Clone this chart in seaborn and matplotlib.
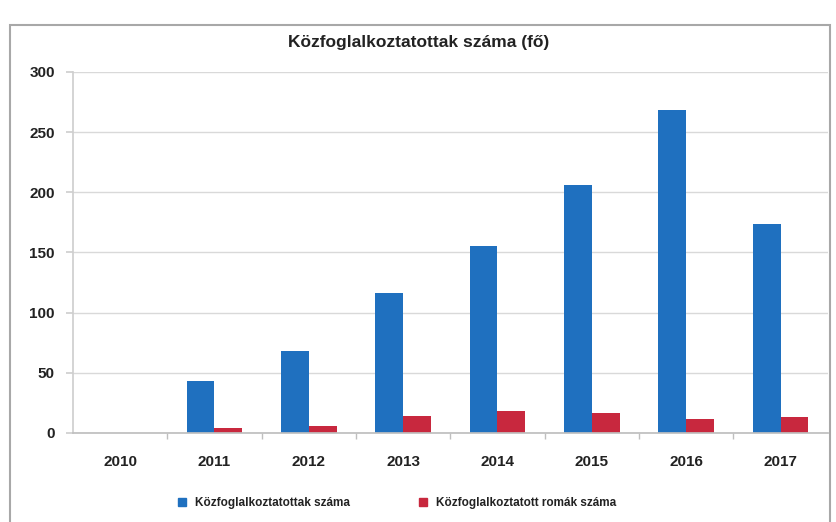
import matplotlib
matplotlib.use("Agg")
import matplotlib.pyplot as plt
import seaborn as sns
import pandas as pd
from matplotlib.patches import Rectangle
from matplotlib.lines import Line2D

years = ["2010", "2011", "2012", "2013", "2014", "2015", "2016", "2017"]
kozfoglalkoztatottak = [0, 43, 68, 116, 155, 206, 268, 174]
romak = [0, 4, 6, 14, 18, 17, 12, 13]
series_names = ["Közfoglalkoztatottak száma", "Közfoglalkoztatott romák száma"]
title = "Közfoglalkoztatottak száma (fő)"
yticks = [0, 50, 100, 150, 200, 250, 300]

df = pd.DataFrame({
    "Év": years * 2,
    "Érték": kozfoglalkoztatottak + romak,
    "Sorozat": [series_names[0]] * len(years) + [series_names[1]] * len(years),
})

sns.set_theme(style="white")
plt.rcParams['font.family'] = ['Liberation Sans', 'DejaVu Sans']

colors = ["#1f70bf", "#c8283e"]
fig = plt.figure(figsize=(8.37, 5.22), dpi=100)
ax = fig.add_axes([0.087, 0.1705, 0.902, 0.6916])

sns.barplot(data=df, x="Év", y="Érték", hue="Sorozat", palette=colors,
            width=0.59, ax=ax, legend=False, saturation=1, linewidth=0)

ax.set_ylim(0, 300)
ax.set_xlim(-0.5, len(years) - 0.5)
ax.set_yticks(yticks)
ax.set_yticklabels([str(v) for v in yticks], fontsize=11, fontweight="bold", color="#222222")
ax.set_xticks(range(len(years)))
ax.set_xticklabels(years, fontsize=11, fontweight="bold", color="#222222")
ax.set_xlabel("")
ax.set_ylabel("")
ax.yaxis.grid(True, color="#d9d9d9", linewidth=1)
ax.set_axisbelow(True)
for s in ["top", "right"]:
    ax.spines[s].set_visible(False)
ax.spines["left"].set_color("#cfcfcf")
ax.spines["bottom"].set_color("#bfbfbf")
ax.tick_params(axis="y", length=5, color="#cfcfcf", pad=8, left=True)
ax.tick_params(axis="x", length=0, pad=16)
ax.set_xticks([i + 0.5 for i in range(len(years) - 1)], minor=True)
ax.tick_params(axis="x", which="minor", length=4, color="#bfbfbf", bottom=True)

fig.text(0.5, 0.918, title, ha="center", va="center", fontsize=12.5,
         fontweight="bold", color="#222222")

handles = [Line2D([0], [0], marker="s", linestyle="none", markersize=6,
                  markerfacecolor=c, markeredgecolor=c) for c in colors]
fig.legend(handles, series_names, loc="center", bbox_to_anchor=(0.47, 0.037),
           ncol=2, frameon=False, prop={"size": 8.5, "weight": "bold"},
           handletextpad=0.1, columnspacing=5.2, labelcolor="#222222")

fig.add_artist(Rectangle((0.012, -0.05), 0.98, 1.002, transform=fig.transFigure,
                         fill=False, edgecolor="#a8a8a8", linewidth=1.5))

fig.savefig("out.png", dpi=100)
